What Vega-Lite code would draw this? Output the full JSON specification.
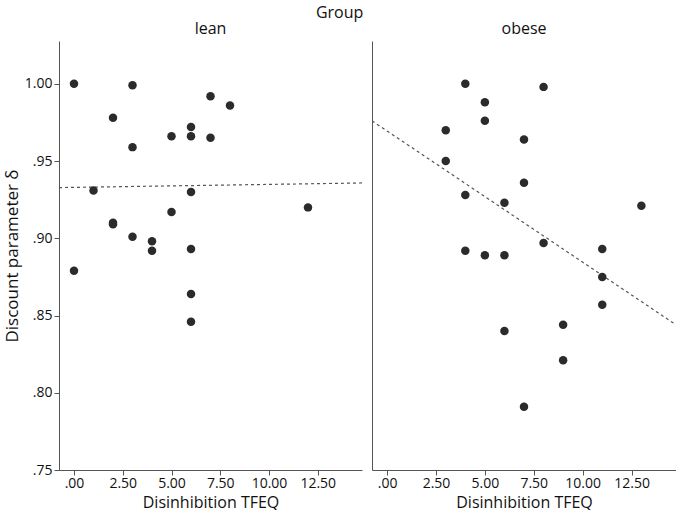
{
  "$schema": "https://vega.github.io/schema/vega-lite/v6.json",
  "padding": {"left": 3, "top": 5, "right": 0, "bottom": 0},
  "background": "white",
  "title": {"text": "Group", "fontSize": 16, "fontWeight": "normal", "font": "Open Sans", "color": "#111", "anchor": "middle", "offset": 0},
  "datasets": {
    "points": [
      {"group": "lean", "tfeq": 0, "delta": 1.000},
      {"group": "lean", "tfeq": 3, "delta": 0.999},
      {"group": "lean", "tfeq": 2, "delta": 0.978},
      {"group": "lean", "tfeq": 3, "delta": 0.959},
      {"group": "lean", "tfeq": 7, "delta": 0.992},
      {"group": "lean", "tfeq": 8, "delta": 0.986},
      {"group": "lean", "tfeq": 6, "delta": 0.972},
      {"group": "lean", "tfeq": 5, "delta": 0.966},
      {"group": "lean", "tfeq": 6, "delta": 0.966},
      {"group": "lean", "tfeq": 7, "delta": 0.965},
      {"group": "lean", "tfeq": 1, "delta": 0.931},
      {"group": "lean", "tfeq": 6, "delta": 0.930},
      {"group": "lean", "tfeq": 5, "delta": 0.917},
      {"group": "lean", "tfeq": 12, "delta": 0.920},
      {"group": "lean", "tfeq": 2, "delta": 0.910},
      {"group": "lean", "tfeq": 2, "delta": 0.909},
      {"group": "lean", "tfeq": 3, "delta": 0.901},
      {"group": "lean", "tfeq": 4, "delta": 0.898},
      {"group": "lean", "tfeq": 4, "delta": 0.892},
      {"group": "lean", "tfeq": 6, "delta": 0.893},
      {"group": "lean", "tfeq": 0, "delta": 0.879},
      {"group": "lean", "tfeq": 6, "delta": 0.864},
      {"group": "lean", "tfeq": 6, "delta": 0.846},
      {"group": "obese", "tfeq": 4, "delta": 1.000},
      {"group": "obese", "tfeq": 8, "delta": 0.998},
      {"group": "obese", "tfeq": 5, "delta": 0.988},
      {"group": "obese", "tfeq": 5, "delta": 0.976},
      {"group": "obese", "tfeq": 3, "delta": 0.970},
      {"group": "obese", "tfeq": 7, "delta": 0.964},
      {"group": "obese", "tfeq": 3, "delta": 0.950},
      {"group": "obese", "tfeq": 7, "delta": 0.936},
      {"group": "obese", "tfeq": 4, "delta": 0.928},
      {"group": "obese", "tfeq": 6, "delta": 0.923},
      {"group": "obese", "tfeq": 13, "delta": 0.921},
      {"group": "obese", "tfeq": 8, "delta": 0.897},
      {"group": "obese", "tfeq": 11, "delta": 0.893},
      {"group": "obese", "tfeq": 4, "delta": 0.892},
      {"group": "obese", "tfeq": 5, "delta": 0.889},
      {"group": "obese", "tfeq": 6, "delta": 0.889},
      {"group": "obese", "tfeq": 11, "delta": 0.875},
      {"group": "obese", "tfeq": 11, "delta": 0.857},
      {"group": "obese", "tfeq": 6, "delta": 0.840},
      {"group": "obese", "tfeq": 9, "delta": 0.844},
      {"group": "obese", "tfeq": 9, "delta": 0.821},
      {"group": "obese", "tfeq": 7, "delta": 0.791}
    ],
    "fit": [
      {"group": "lean", "tfeq": -0.77, "delta": 0.9328},
      {"group": "lean", "tfeq": 14.77, "delta": 0.9358},
      {"group": "obese", "tfeq": -0.77, "delta": 0.976},
      {"group": "obese", "tfeq": 14.77, "delta": 0.844}
    ]
  },
  "config": {
    "font": "Open Sans",
    "view": {"stroke": null},
    "axis": {
      "grid": false,
      "domainColor": "#555",
      "tickColor": "#555",
      "labelColor": "#111",
      "titleColor": "#111",
      "labelFontSize": 14,
      "titleFontSize": 16,
      "titleFontWeight": "normal",
      "labelFont": "Open Sans",
      "titleFont": "Open Sans",
      "tickSize": 5
    },
    "concat": {"spacing": 10}
  },
  "hconcat": [
    {
      "width": 303,
      "height": 429,
      "title": {"text": "lean", "fontSize": 16, "fontWeight": "normal", "color": "#111", "offset": 4},
      "layer": [
        {
          "data": {"name": "fit"},
          "transform": [{"filter": "datum.group === 'lean'"}],
          "mark": {"type": "line", "color": "#555", "strokeDash": [3, 3], "strokeWidth": 1.2, "clip": true},
          "encoding": {
            "x": {"field": "tfeq", "type": "quantitative"},
            "y": {"field": "delta", "type": "quantitative"}
          }
        },
        {
          "data": {"name": "points"},
          "transform": [{"filter": "datum.group === 'lean'"}],
          "mark": {"type": "point", "filled": true, "color": "#2b2b2b", "opacity": 1, "size": 72},
          "encoding": {
            "x": {
              "field": "tfeq", "type": "quantitative",
              "scale": {"domain": [-0.77, 14.77], "nice": false, "zero": false},
              "axis": {"title": "Disinhibition TFEQ", "values": [0, 2.5, 5, 7.5, 10, 12.5], "labelExpr": "datum.value == 0 ? '.00' : format(datum.value, '.2f')", "titlePadding": 4, "labelPadding": 1}
            },
            "y": {
              "field": "delta", "type": "quantitative",
              "scale": {"domain": [0.75, 1.0277], "nice": false, "zero": false},
              "axis": {"title": "Discount parameter δ", "values": [0.75, 0.8, 0.85, 0.9, 0.95, 1.0], "labelExpr": "datum.value < 1 ? substring(format(datum.value, '.2f'), 1) : format(datum.value, '.2f')", "titlePadding": 3, "titleFontSize": 17, "labelPadding": 2}
            }
          }
        }
      ]
    },
    {
      "width": 304,
      "height": 429,
      "title": {"text": "obese", "fontSize": 16, "fontWeight": "normal", "color": "#111", "offset": 4},
      "layer": [
        {
          "data": {"name": "fit"},
          "transform": [{"filter": "datum.group === 'obese'"}],
          "mark": {"type": "line", "color": "#555", "strokeDash": [3, 3], "strokeWidth": 1.2, "clip": true},
          "encoding": {
            "x": {"field": "tfeq", "type": "quantitative"},
            "y": {"field": "delta", "type": "quantitative"}
          }
        },
        {
          "data": {"name": "points"},
          "transform": [{"filter": "datum.group === 'obese'"}],
          "mark": {"type": "point", "filled": true, "color": "#2b2b2b", "opacity": 1, "size": 72},
          "encoding": {
            "x": {
              "field": "tfeq", "type": "quantitative",
              "scale": {"domain": [-0.77, 14.77], "nice": false, "zero": false},
              "axis": {"title": "Disinhibition TFEQ", "values": [0, 2.5, 5, 7.5, 10, 12.5], "labelExpr": "datum.value == 0 ? '.00' : format(datum.value, '.2f')", "titlePadding": 4, "labelPadding": 1}
            },
            "y": {
              "field": "delta", "type": "quantitative",
              "scale": {"domain": [0.75, 1.0277], "nice": false, "zero": false},
              "axis": {"title": null, "labels": false, "ticks": false, "values": [0.75, 0.8, 0.85, 0.9, 0.95, 1.0]}
            }
          }
        }
      ]
    }
  ]
}
